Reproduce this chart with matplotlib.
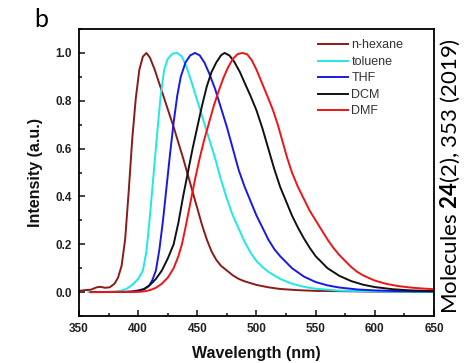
import matplotlib
matplotlib.use("Agg")
import matplotlib.pyplot as plt
from matplotlib.ticker import MultipleLocator

# emission spectra (wavelength nm, normalised intensity)
hex_wl = [350, 355, 360, 365, 368, 372, 376, 380, 383, 386, 389, 392, 395, 398, 401, 404, 407,
          410, 414, 418, 422, 426, 430, 434, 438, 442, 446, 450, 454, 458, 462, 466, 470, 475,
          480, 485, 490, 500, 510, 520, 535, 550, 600, 650]
hex_i = [0.005, 0.008, 0.01, 0.02, 0.022, 0.018, 0.02, 0.035, 0.06, 0.11, 0.22, 0.42, 0.64,
         0.81, 0.93, 0.985, 1.0, 0.98, 0.93, 0.87, 0.81, 0.75, 0.69, 0.625, 0.56, 0.49, 0.42,
         0.35, 0.28, 0.22, 0.17, 0.135, 0.11, 0.09, 0.07, 0.055, 0.045, 0.03, 0.02, 0.013,
         0.008, 0.005, 0.002, 0.001]

tol_wl = [358, 370, 380, 385, 390, 395, 400, 404, 407, 410, 413, 416, 419, 422, 425, 429, 433,
          437, 441, 445, 450, 455, 460, 465, 470, 475, 480, 485, 490, 495, 500, 505, 510, 520,
          530, 540, 550, 570, 600, 650]
tol_i = [0.0, 0.0, 0.002, 0.005, 0.013, 0.03, 0.055, 0.09, 0.17, 0.32, 0.49, 0.66, 0.82, 0.93,
         0.975, 0.997, 1.0, 0.985, 0.94, 0.88, 0.80, 0.72, 0.64, 0.56, 0.47, 0.39, 0.32, 0.265,
         0.21, 0.165, 0.13, 0.105, 0.085, 0.055, 0.035, 0.022, 0.014, 0.006, 0.003, 0.001]

thf_wl = [360, 380, 390, 395, 400, 405, 409, 412, 415, 418, 421, 424, 427, 430, 433, 436, 440,
          444, 448, 452, 456, 460, 465, 470, 475, 480, 485, 490, 495, 500, 505, 510, 515, 520,
          525, 530, 540, 550, 560, 570, 585, 600, 620, 650]
thf_i = [0.0, 0.0, 0.001, 0.003, 0.007, 0.013, 0.025, 0.05, 0.09, 0.18, 0.3, 0.44, 0.58, 0.71,
         0.82, 0.9, 0.96, 0.99, 1.0, 0.99, 0.96, 0.915, 0.85, 0.77, 0.69, 0.6, 0.51, 0.44, 0.38,
         0.32, 0.27, 0.22, 0.18, 0.15, 0.125, 0.1, 0.065, 0.042, 0.028, 0.019, 0.011, 0.007,
         0.004, 0.002]

dcm_wl = [360, 395, 400, 405, 410, 415, 420, 425, 430, 434, 438, 442, 446, 450, 454, 458, 462,
          466, 470, 473, 477, 481, 486, 490, 495, 500, 505, 510, 515, 520, 525, 530, 535, 540,
          545, 550, 555, 560, 570, 580, 590, 600, 615, 630, 650]
dcm_i = [0.0, 0.001, 0.004, 0.012, 0.03, 0.055, 0.09, 0.14, 0.2, 0.29, 0.4, 0.5, 0.6, 0.69,
         0.78, 0.86, 0.92, 0.96, 0.99, 1.0, 0.99, 0.965, 0.92, 0.875, 0.82, 0.76, 0.685, 0.6,
         0.515, 0.44, 0.38, 0.32, 0.27, 0.225, 0.185, 0.15, 0.125, 0.1, 0.068, 0.046, 0.031,
         0.021, 0.012, 0.007, 0.004]

dmf_wl = [360, 400, 405, 410, 415, 420, 425, 430, 434, 437, 440, 444, 448, 452, 456, 460, 464,
          468, 472, 476, 480, 484, 488, 492, 496, 500, 505, 510, 514, 518, 522, 526, 530, 535,
          540, 545, 550, 555, 560, 565, 570, 575, 580, 585, 590, 600, 610, 620, 630, 640, 650]
dmf_i = [0.0, 0.001, 0.003, 0.008, 0.018, 0.035, 0.06, 0.1, 0.15, 0.2, 0.27, 0.37, 0.47, 0.56,
         0.64, 0.71, 0.78, 0.84, 0.895, 0.94, 0.975, 0.995, 1.0, 0.995, 0.97, 0.93, 0.87, 0.81,
         0.76, 0.70, 0.63, 0.56, 0.50, 0.44, 0.39, 0.34, 0.30, 0.26, 0.22, 0.185, 0.155, 0.13,
         0.105, 0.085, 0.07, 0.048, 0.034, 0.025, 0.019, 0.015, 0.012]

series = [
    ("n-hexane", hex_wl, hex_i, "#8b1a1a"),
    ("toluene", tol_wl, tol_i, "#1ee8e8"),
    ("THF", thf_wl, thf_i, "#1818e8"),
    ("DCM", dcm_wl, dcm_i, "#111111"),
    ("DMF", dmf_wl, dmf_i, "#f01414"),
]

plt.rcParams['font.family'] = ['Liberation Sans', 'DejaVu Sans']
plt.rcParams['mathtext.fontset'] = 'custom'
plt.rcParams['mathtext.rm'] = 'Lato'
plt.rcParams['mathtext.bf'] = 'Lato:bold'

fig = plt.figure(figsize=(4.66, 3.63), dpi=100)
ax = fig.add_axes([0.1695, 0.1295, 0.7618, 0.7905])

for name, wl, inten, col in series:
    ax.plot(wl, inten, color=col, lw=1.4, label=name)

ax.set_xlim(350, 650)
ax.set_ylim(-0.1, 1.1)
ax.xaxis.set_major_locator(MultipleLocator(50))
ax.xaxis.set_minor_locator(MultipleLocator(25))
ax.yaxis.set_minor_locator(MultipleLocator(0.1))
ax.set_yticks([0.0, 0.2, 0.4, 0.6, 0.8, 1.0])

ax.tick_params(which='both', direction='in', colors='#222222', width=1.2)
ax.tick_params(which='major', length=4.5, labelsize=8.5, pad=5)
ax.tick_params(which='minor', length=2.5)
for lbl in ax.get_xticklabels() + ax.get_yticklabels():
    lbl.set_fontweight('bold')
for sp in ax.spines.values():
    sp.set_linewidth(1.3)

ax.set_xlabel("Wavelength (nm)", fontsize=11.5, fontweight='bold', color='#111111', labelpad=8)
ax.set_ylabel("Intensity (a.u.)", fontsize=11.5, fontweight='bold', color='#111111', labelpad=9)

leg = ax.legend(loc='upper right', frameon=False, fontsize=9, handlelength=2.4,
                handletextpad=0.25, labelspacing=0.36, bbox_to_anchor=(0.935, 0.99),
                borderaxespad=0.2)
for t in leg.get_texts():
    t.set_color('#333333')

fig.text(0.074, 0.945, "b", fontsize=18, family='Lato', ha='left', va='center')
fig.text(0.966, 0.514, r"Molecules $\mathbf{24}$(2), 353 (2019)", rotation=90,
         fontsize=16, family='Lato', ha='center', va='center')

fig.savefig("out.png", dpi=100)
